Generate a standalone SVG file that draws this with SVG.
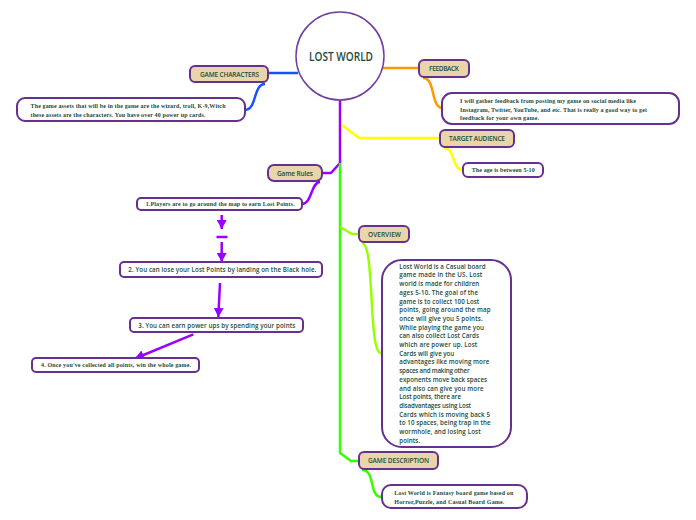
<svg xmlns="http://www.w3.org/2000/svg" width="696" height="520" viewBox="0 0 696 520">
<style>
.bg{fill:#ffffff}
.node{fill:#e9d5aa;stroke:#66308f;stroke-width:2}
.box{fill:#ffffff;stroke:#66308f;stroke-width:2}
.lbl{font-family:"Open Sans","Liberation Sans",sans-serif;font-size:6.5px;font-weight:600;fill:#1c4a3c;text-anchor:middle}
.ser{font-family:"Liberation Serif","Times New Roman",serif;font-size:6px;font-weight:bold;fill:#1c4a3c}
.sans{font-family:"Open Sans","Liberation Sans",sans-serif;font-size:6.2px;font-weight:600;fill:#1c4a3c}
.c{fill:none;stroke-width:2.5;stroke-linejoin:round}
.arr{fill:none;stroke:#9900ff;stroke-width:2.5}
</style>
<defs>
<marker id="ah" markerUnits="userSpaceOnUse" markerWidth="11" markerHeight="10" refX="9" refY="5" orient="auto">
<path d="M0,0 L9,5 L0,10 z" fill="#9900ff"/>
</marker>
</defs>
<rect class="bg" x="0" y="0" width="696" height="520"/>

<g id="connectors">
<path class="c" stroke="#1a4fff" d="M268,73 L298,73"/>
<path class="c" stroke="#1a4fff" d="M265,84 C253,84 257,110 245,110"/>
<path class="c" stroke="#ff9900" d="M383,68 L419,68"/>
<path class="c" stroke="#ff9900" d="M423,78 C436,78 430,108 443,108"/>
<path class="c" stroke="#ffff00" d="M342,125 L359,138 L440,138"/>
<path class="c" stroke="#ffff00" d="M444,148 C456,148 451,170 463,170"/>
<path class="c" stroke="#9900ff" d="M340,100 L340,163 L331,173 L322,173"/>
<path class="c" stroke="#9900ff" d="M320,182 C311,182 312,204 302,204"/>
<path class="c" stroke="#33ff00" d="M340,163 L340,453 L351,461 L359,461"/>
<path class="c" stroke="#99ff00" d="M340,227 L352,234 L359,234"/>
<path class="c" stroke="#99ff00" d="M362,243 C375,243 368,353 381,353"/>
<path class="c" stroke="#33ff00" d="M362,470 C376,470 368,497 382,497"/>
<line class="arr" x1="221.7" y1="215" x2="221.7" y2="229" marker-end="url(#ah)"/>
<line class="arr" x1="216.5" y1="237" x2="227.5" y2="237"/>
<line class="arr" x1="221.7" y1="242" x2="221.7" y2="262" marker-end="url(#ah)"/>
<line class="arr" x1="220" y1="283" x2="218.3" y2="317" marker-end="url(#ah)"/>
<line class="arr" x1="193.3" y1="334.3" x2="135" y2="358.5" marker-end="url(#ah)"/>
</g>

<g id="lost-world">
<circle cx="340" cy="56" r="44" fill="#ffffff" stroke="#7040a0" stroke-width="1.5"/>
<text x="341" y="60.5" font-family="'Open Sans','Liberation Sans',sans-serif" font-size="12" font-weight="600" fill="#1c4a3c" text-anchor="middle" textLength="64" lengthAdjust="spacingAndGlyphs">LOST WORLD</text>
</g>

<g id="game-characters">
<rect class="node" x="190" y="66" width="78" height="16" rx="5"/>
<text class="lbl" x="229.5" y="76.5" textLength="59">GAME CHARACTERS</text>
</g>
<g id="game-characters-desc">
<rect class="box" x="17" y="98" width="228" height="23" rx="8"/>
<text class="ser" x="30.5" y="108" textLength="195">The game assets that will be in the game are the wizard, troll, K-9,Witch</text>
<text class="ser" x="30.5" y="117" textLength="175">these assets are the characters. You have over 40 power up cards.</text>
</g>

<g id="feedback">
<rect class="node" x="419" y="60" width="50" height="17" rx="5"/>
<text class="lbl" x="444" y="70.5" textLength="30">FEEDBACK</text>
</g>
<g id="feedback-desc">
<rect class="box" x="442" y="93" width="237" height="31" rx="10"/>
<text class="ser" x="460" y="103" textLength="176">I will gather feedback from posting my game on social media like</text>
<text class="ser" x="460" y="111.5" textLength="187">Instagram, Twitter, YouTube, and etc. That is really a good way to get</text>
<text class="ser" x="460" y="120" textLength="79">feedback for your own game.</text>
</g>

<g id="target-audience">
<rect class="node" x="440" y="130" width="74" height="17" rx="5"/>
<text class="lbl" x="477" y="140.5" textLength="56">TARGET AUDIENCE</text>
</g>
<g id="target-audience-desc">
<rect class="box" x="463" y="163" width="80" height="14" rx="5"/>
<text class="ser" x="471.7" y="172.3" textLength="63">The age is between 5-10</text>
</g>

<g id="game-rules">
<rect class="node" x="268" y="165" width="54" height="16" rx="6"/>
<text class="lbl" x="295" y="175.5" font-weight="500" textLength="36">Game Rules</text>
</g>
<g id="rule-1">
<rect class="box" x="137" y="198" width="165" height="12" rx="4"/>
<text class="ser" x="145.7" y="206" textLength="149">1.Players are to go around the map to earn Lost Points.</text>
</g>
<g id="rule-2">
<rect class="box" x="120" y="262" width="202" height="15" rx="4"/>
<text class="sans" x="128.3" y="272" textLength="188">2. You can lose your Lost Points by landing on the Black hole.</text>
</g>
<g id="rule-3">
<rect class="box" x="130" y="318" width="173" height="14" rx="4"/>
<text class="sans" x="138.3" y="327.5" textLength="157">3. You can earn power ups by spending your points</text>
</g>
<g id="rule-4">
<rect class="box" x="32" y="358" width="167" height="14" rx="4"/>
<text class="ser" x="41" y="367.3" textLength="150">4. Once you've collected all points, win the whole game.</text>
</g>

<g id="overview">
<rect class="node" x="359" y="226" width="50" height="16" rx="5"/>
<text class="lbl" x="384.5" y="236.5" textLength="33">OVERVIEW</text>
</g>
<g id="overview-desc">
<rect class="box" x="382" y="260" width="129" height="187" rx="20"/>
<text class="sans" x="399.3" y="268.7" textLength="86.3">Lost World is a Casual board</text>
<text class="sans" x="399.3" y="277.4" textLength="83">game made in the US. Lost</text>
<text class="sans" x="399.3" y="286.1" textLength="80">world is made for children</text>
<text class="sans" x="399.3" y="294.8" textLength="78.7">ages 5-10. The goal of the</text>
<text class="sans" x="399.3" y="303.5" textLength="80">game is to collect 100 Lost</text>
<text class="sans" x="399.3" y="312.2" textLength="91.3">points, going around the map</text>
<text class="sans" x="399.3" y="320.9" textLength="83.3">once will give you 5 points.</text>
<text class="sans" x="399.3" y="329.6" textLength="84.7">While playing the game you</text>
<text class="sans" x="399.3" y="338.3" textLength="79.7">can also collect Lost Cards</text>
<text class="sans" x="399.3" y="347" textLength="78">which are power up. Lost</text>
<text class="sans" x="399.3" y="355.7" textLength="55">Cards will give you</text>
<text class="sans" x="399.3" y="364.4" textLength="90">advantages like moving more</text>
<text class="sans" x="399.3" y="373.1" textLength="70.3">spaces and making other</text>
<text class="sans" x="399.3" y="381.8" textLength="87.7">exponents move back spaces</text>
<text class="sans" x="399.3" y="390.5" textLength="84.3">and also can give you more</text>
<text class="sans" x="399.3" y="399.2" textLength="61.7">Lost points, there are</text>
<text class="sans" x="399.3" y="407.9" textLength="71.7">disadvantages using Lost</text>
<text class="sans" x="399.3" y="416.6" textLength="90.7">Cards which is moving back  5</text>
<text class="sans" x="399.3" y="425.3" textLength="91.3">to 10 spaces, being trap in the</text>
<text class="sans" x="399.3" y="434" textLength="81.3">wormhole, and losing Lost</text>
<text class="sans" x="399.3" y="442.7" textLength="20.7">points.</text>
</g>

<g id="game-description">
<rect class="node" x="359" y="452" width="79" height="17" rx="5"/>
<text class="lbl" x="398.5" y="462.8" textLength="61">GAME DESCRIPTION</text>
</g>
<g id="game-description-desc">
<rect class="box" x="382" y="485" width="145" height="23" rx="9"/>
<text class="ser" x="394.3" y="495" textLength="119">Lost World is Fantasy board game based on</text>
<text class="ser" x="394.3" y="504" textLength="110">Horror,Puzzle, and Casual Board Game.</text>
</g>
</svg>
